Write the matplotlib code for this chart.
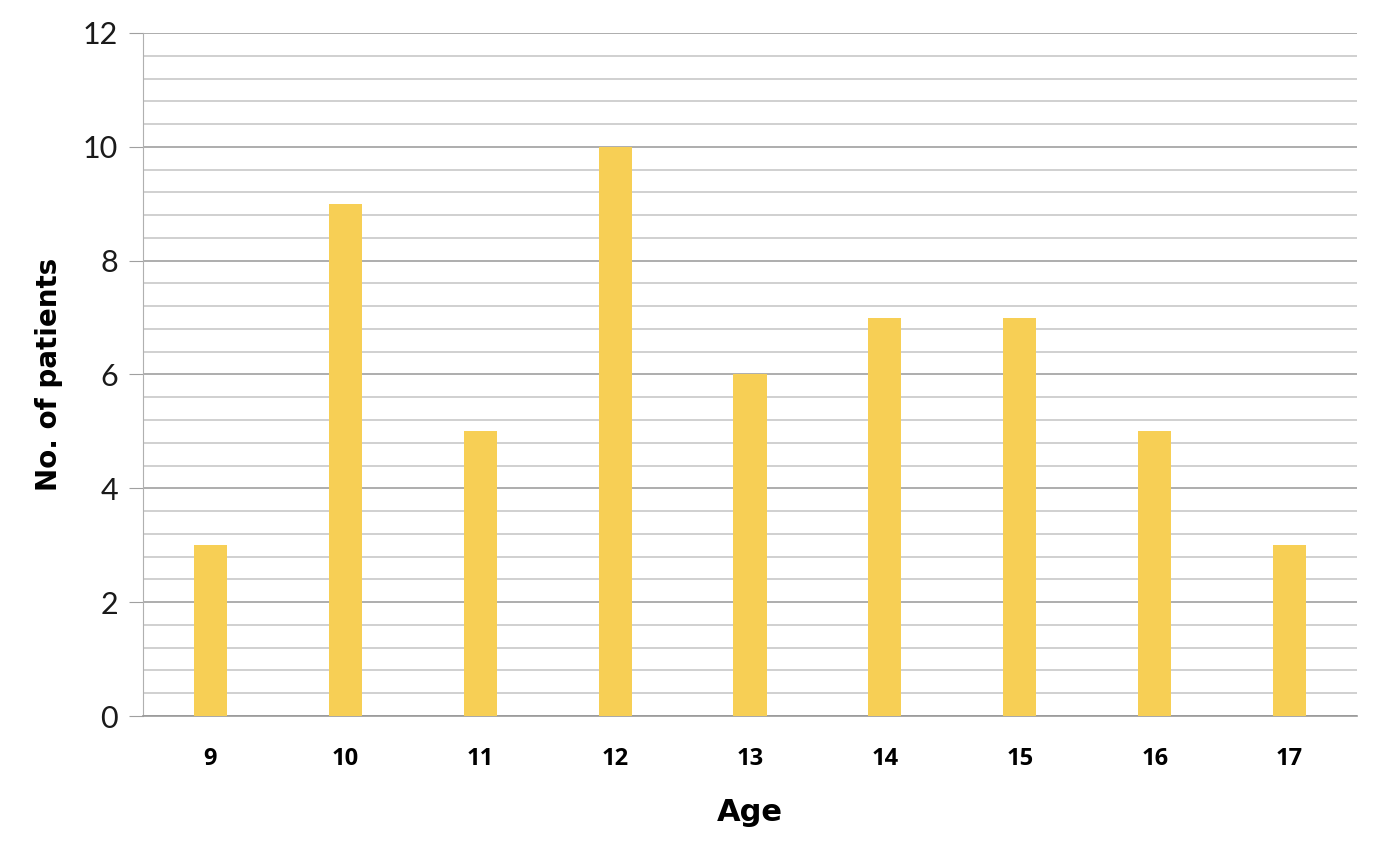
import numpy as np
import matplotlib.pyplot as plt
from matplotlib.ticker import MultipleLocator

ages = ["9", "10", "11", "12", "13", "14", "15", "16", "17"]
patients = [3, 9, 5, 10, 6, 7, 7, 5, 3]

fig = plt.figure(figsize=(13.88, 8.52), dpi=100)
ax = fig.add_axes([0.103, 0.1596, 0.8747, 0.8017])

x = np.arange(len(ages))
ax.bar(x, patients, width=0.245, color="#F7CF55", zorder=3)

ax.set_xlim(-0.5, len(ages) - 0.5)
ax.set_ylim(0, 12)
ax.yaxis.set_major_locator(MultipleLocator(2))
ax.yaxis.set_minor_locator(MultipleLocator(0.4))
ax.grid(axis="y", which="major", color="#A0A0A0", linewidth=1.2, zorder=0)
ax.grid(axis="y", which="minor", color="#C4C4C4", linewidth=1.1, zorder=0)

for s in ["top", "right"]:
    ax.spines[s].set_visible(False)
ax.spines["left"].set_color("#B0B0B0")
ax.spines["bottom"].set_color("#999999")
ax.spines["bottom"].set_linewidth(1.2)

ax.tick_params(axis="y", which="major", length=10, color="#A0A0A0",
               labelsize=22, pad=8)
ax.tick_params(axis="y", which="minor", length=0)
ax.tick_params(axis="x", length=0, pad=22)
for lab in ax.get_yticklabels():
    lab.set_fontfamily("Lato")
    lab.set_fontweight("normal")
    lab.set_color("#1A1A1A")

ax.set_xticks(x)
ax.set_xticklabels(ages, fontsize=17, fontweight="bold", family="Open Sans")

ax.set_xlabel("Age", fontsize=22, fontweight="bold", family="DejaVu Sans",
              labelpad=20)
ax.set_ylabel("No. of patients", fontsize=20, fontweight="bold",
              family="DejaVu Sans", labelpad=14)

fig.savefig("out.png", dpi=100)
